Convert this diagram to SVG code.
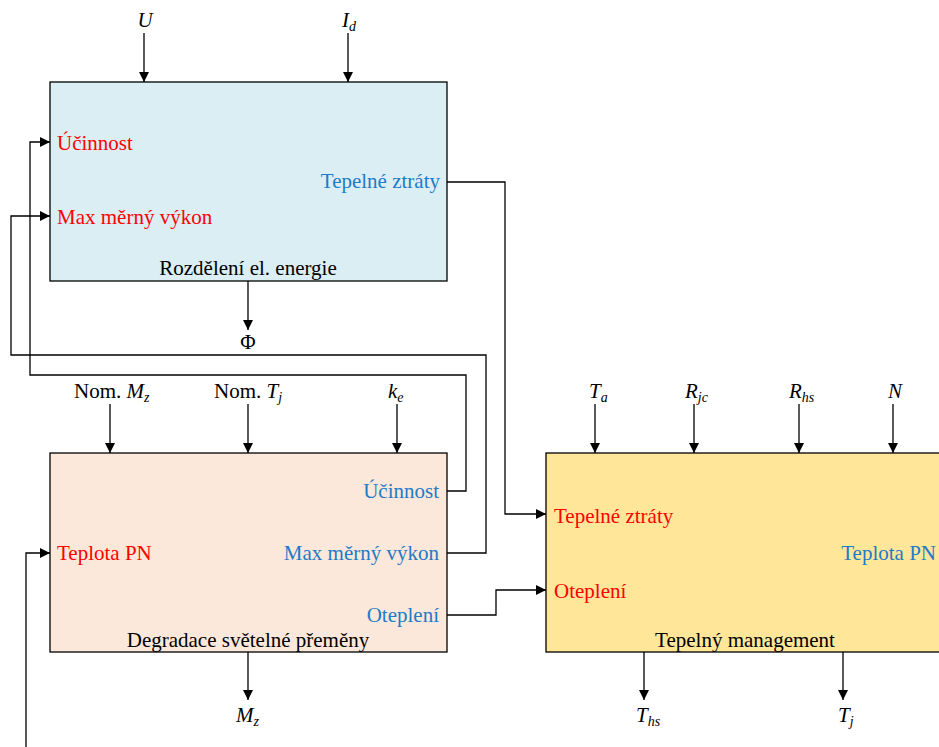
<svg xmlns="http://www.w3.org/2000/svg" width="939" height="747" viewBox="0 0 939 747">
<style>
text{font-family:"Liberation Serif","DejaVu Serif",serif;font-size:21px;fill:#000}
.red{fill:#FF0000}
.blue{fill:#1E7BC8}
.it{font-style:italic}
.sub{font-size:14px;font-style:italic}
.box{stroke:#000;stroke-width:1.3}
.c{fill:none;stroke:#000;stroke-width:1.3}
.mid{text-anchor:middle}
.end{text-anchor:end}
</style>
<defs>
<marker id="arr" markerUnits="userSpaceOnUse" markerWidth="10" markerHeight="10" refX="10" refY="5" orient="auto">
<path d="M0,0 L10,5 L0,10 z" fill="#000"/>
</marker>
</defs>
<rect width="939" height="747" fill="#fff"/>

<g id="rozdeleni">
<rect class="box" x="50" y="82" width="397" height="199" fill="#DAEEF3"/>
<text x="57" y="150" class="red">Účinnost</text>
<text x="57" y="224" class="red">Max měrný výkon</text>
<text x="440" y="188" class="blue end">Tepelné ztráty</text>
<text x="248" y="275" class="mid">Rozdělení el. energie</text>
</g>

<g id="degradace">
<rect class="box" x="50" y="453" width="397" height="199" fill="#FBE8DA"/>
<text x="439" y="498" class="blue end">Účinnost</text>
<text x="439" y="560" class="blue end">Max měrný výkon</text>
<text x="439" y="622" class="blue end">Oteplení</text>
<text x="57" y="560" class="red">Teplota PN</text>
<text x="248" y="647" class="mid">Degradace světelné přeměny</text>
</g>

<g id="tepelny">
<rect class="box" x="546" y="453" width="398" height="199" fill="#FFE699"/>
<text x="554" y="523" class="red">Tepelné ztráty</text>
<text x="554" y="598" class="red">Oteplení</text>
<text x="936" y="560" class="blue end">Teplota PN</text>
<text x="745" y="647" class="mid">Tepelný management</text>
</g>

<g id="labels">
<text x="145" y="27" class="it mid">U</text>
<text x="342" y="27" class="it">I<tspan class="sub" dy="4">d</tspan></text>
<text x="248" y="349" class="mid">Φ</text>
<text x="74" y="398">Nom. <tspan class="it">M</tspan><tspan class="sub" dy="4">z</tspan></text>
<text x="214" y="398">Nom. <tspan class="it">T</tspan><tspan class="sub" dy="4">j</tspan></text>
<text x="388" y="398" class="it">k<tspan class="sub" dy="4">e</tspan></text>
<text x="236" y="722" class="it">M<tspan class="sub" dy="4">z</tspan></text>
<text x="589" y="398" class="it">T<tspan class="sub" dy="4">a</tspan></text>
<text x="685" y="398" class="it">R<tspan class="sub" dy="4">jc</tspan></text>
<text x="789" y="398" class="it">R<tspan class="sub" dy="4">hs</tspan></text>
<text x="895" y="398" class="it mid">N</text>
<text x="636" y="722" class="it">T<tspan class="sub" dy="4">hs</tspan></text>
<text x="838" y="722" class="it">T<tspan class="sub" dy="4">j</tspan></text>
</g>

<g id="connectors">
<path class="c" d="M144,33 V82" marker-end="url(#arr)"/>
<path class="c" d="M348,33 V82" marker-end="url(#arr)"/>
<path class="c" d="M248,281 V330" marker-end="url(#arr)"/>
<path class="c" d="M447,182 H505 V514 H546" marker-end="url(#arr)"/>
<path class="c" d="M447,553 H486 V355 H11 V216 H50" marker-end="url(#arr)"/>
<path class="c" d="M447,491 H466 V375 H30 V142 H50" marker-end="url(#arr)"/>
<path class="c" d="M447,615 H496 V590 H546" marker-end="url(#arr)"/>
<path class="c" d="M26,747 V553 H50" marker-end="url(#arr)"/>
<path class="c" d="M110,404 V453" marker-end="url(#arr)"/>
<path class="c" d="M248,404 V453" marker-end="url(#arr)"/>
<path class="c" d="M397,404 V453" marker-end="url(#arr)"/>
<path class="c" d="M248,652 V700" marker-end="url(#arr)"/>
<path class="c" d="M595,404 V453" marker-end="url(#arr)"/>
<path class="c" d="M694,404 V453" marker-end="url(#arr)"/>
<path class="c" d="M799,404 V453" marker-end="url(#arr)"/>
<path class="c" d="M893,404 V453" marker-end="url(#arr)"/>
<path class="c" d="M644,652 V700" marker-end="url(#arr)"/>
<path class="c" d="M843,652 V700" marker-end="url(#arr)"/>
</g>
</svg>
